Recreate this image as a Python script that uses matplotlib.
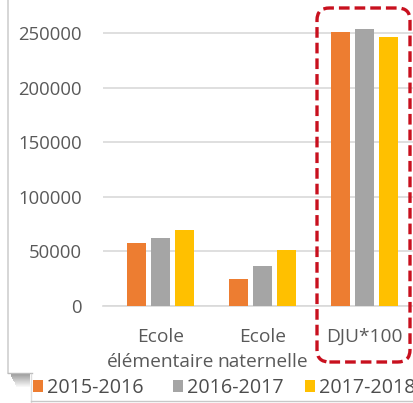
import matplotlib
matplotlib.use("Agg")
import matplotlib.pyplot as plt
from matplotlib.patches import FancyBboxPatch, Rectangle
from matplotlib.lines import Line2D
import numpy as np

categories = ["Ecole\nélémentaire", "Ecole\nnaternelle", "DJU*100"]
series_names = ["2015-2016", "2016-2017", "2017-2018"]
v2015 = [58000, 24500, 251000]
v2016 = [62300, 36700, 253700]
v2017 = [69400, 51100, 246600]
yticks = [0, 50000, 100000, 150000, 200000, 250000]
colors = ["#ED7D31", "#A5A5A5", "#FFC000"]

W, H = 414, 403
fig = plt.figure(figsize=(W / 100, H / 100), dpi=100)
fig.patch.set_facecolor("white")


def fx(px):
    return px / W


def fy(py):
    return 1 - py / H


FONT = "Open Sans"
TXT = "#595959"

# axes geometry (pixels)
y0 = 306
ymax = 262000
pxper = 272.7 / 250000
ax_top = y0 - ymax * pxper
ax = fig.add_axes([fx(103), fy(y0), fx(414 - 103), (y0 - ax_top) / H])
ax.set_facecolor("none")

x = np.arange(len(categories))
bw = 0.186
step = 0.235
bars = []
for i, (vals, c) in enumerate(zip([v2015, v2016, v2017], colors)):
    b = ax.bar(x + (i - 1) * step, vals, width=bw, color=c, zorder=3, label=series_names[i])
    bars.append(b)

ax.set_xlim(-(160.5 - 103) / 102, (414 - 160.5) / 102)
ax.set_ylim(0, ymax)
ax.set_yticks(yticks)
ax.set_yticklabels([str(v) for v in yticks], fontsize=13.3, color=TXT, family=FONT)
ax.set_xticks(x)
ax.set_xticklabels(categories, fontsize=13.8, color=TXT, family=FONT, linespacing=1.45)
ax.tick_params(axis="y", length=0, pad=15)
ax.tick_params(axis="x", length=0, pad=16)
ax.yaxis.grid(True, color="#D9D9D9", linewidth=1.2, zorder=0)
for s in ["top", "right", "left"]:
    ax.spines[s].set_visible(False)
ax.spines["bottom"].set_color("#D9D9D9")
ax.spines["bottom"].set_linewidth(1.2)

# red dashed rounded highlight box
box = FancyBboxPatch((fx(317), fy(362)), fx(410 - 317), (362 - 8) / H,
                     boxstyle="round,pad=0,rounding_size=0.03",
                     transform=fig.transFigure, fill=False,
                     edgecolor="#C8101E", linewidth=2.4, linestyle=(0, (3.2, 1.5)),
                     zorder=10)
fig.patches.append(box)

# panel edges / shadows (screenshot framing)
fig.add_artist(Line2D([fx(8), fx(8)], [fy(0), fy(373)], color="#CFCFCF", linewidth=1.2,
                      transform=fig.transFigure))
fig.add_artist(Line2D([fx(8), fx(32)], [fy(373), fy(373)], color="#BBBBBB", linewidth=1.0,
                      transform=fig.transFigure))
for k in range(14):
    fig.patches.append(Rectangle((fx(10 + k * 0.5), fy(374 + k)), fx(30 - 10 - k * 0.5), 1 / H,
                                 transform=fig.transFigure, color="#555555",
                                 alpha=0.6 * (1 - k / 14), linewidth=0))
fig.add_artist(Line2D([fx(31), fx(31)], [fy(374), fy(403)], color="#DDDDDD", linewidth=1.0,
                      transform=fig.transFigure))
fig.add_artist(Line2D([fx(31), fx(414)], [fy(400.5), fy(400.5)], color="#C8C8C8", linewidth=1.0,
                      transform=fig.transFigure))

# legend entries placed individually (as in the reference layout)
leg_x = [33, 173, 305]
for px, b, name in zip(leg_x, bars, series_names):
    lg = fig.legend(handles=[b], labels=[name], loc="center left",
                    bbox_to_anchor=(fx(px), fy(388)), frameon=False,
                    handlelength=0.5, handleheight=0.5, handletextpad=0.2,
                    borderpad=0, borderaxespad=0,
                    prop={"family": FONT, "size": 14.2})
    for t in lg.get_texts():
        t.set_color("#4D4D4D")

fig.savefig("out.png", dpi=100)
